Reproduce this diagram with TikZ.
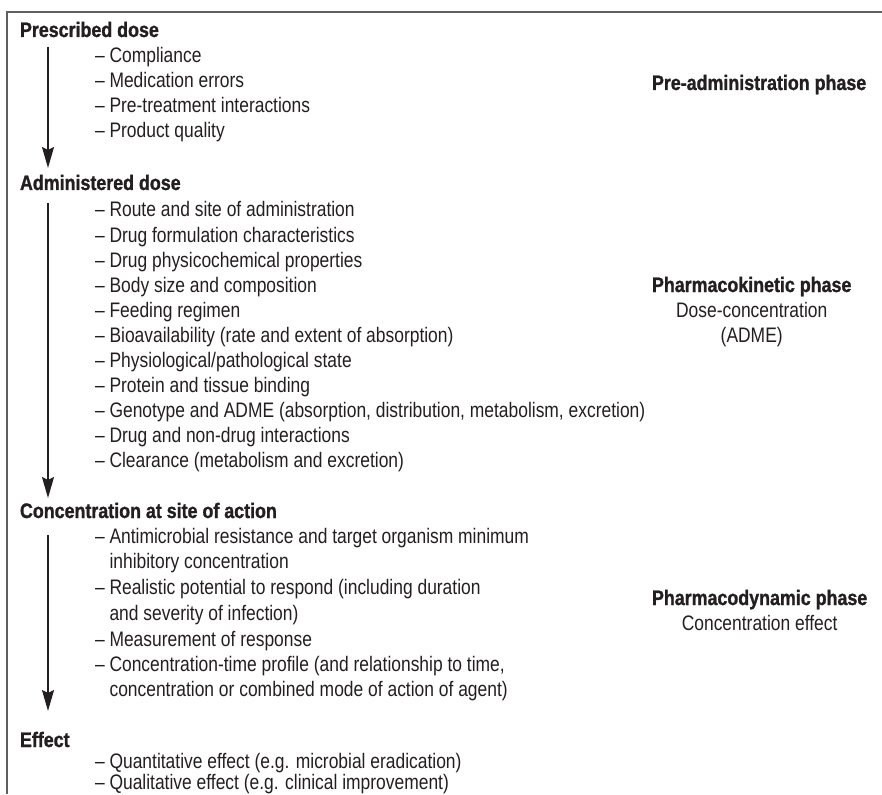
\documentclass[tikz,border=0pt]{standalone}
\usepackage{fontspec}
\setmainfont{Liberation Sans}[FakeStretch=0.83, BoldFeatures={FakeStretch=0.85, FakeBold=1.2}]
\usetikzlibrary{arrows.meta}
\definecolor{ink}{RGB}{35,31,32}
\definecolor{framec}{RGB}{95,95,95}
\begin{document}
\begin{tikzpicture}[x=1pt,y=-1pt,
  every node/.style={inner sep=0pt, outer sep=0pt, text=ink, font=\fontsize{21pt}{25pt}\selectfont},
  head/.style={anchor=base west, font=\fontsize{21pt}{25pt}\selectfont\bfseries},
  item/.style={anchor=base west},
  phase/.style={anchor=base west, font=\fontsize{21pt}{25pt}\selectfont\bfseries},
  sub/.style={anchor=base},
  arr/.style={draw=ink, line width=1.6pt, -{Stealth[length=21pt,width=12pt,inset=3pt]}},
  framel/.style={draw=framec, line width=1.6pt}]
\useasboundingbox (0,0) rectangle (882,794);
\draw[framel] (7,794) -- (7,12) -- (882,12);

% headings
\node[head] (h1) at (20,37) {Prescribed dose};
\node[head] (h2) at (20,190) {Administered dose};
\node[head] (h3) at (20,518) {Concentration at site of action};
\node[head] (h4) at (20,747) {Effect};

% pre-administration items
\foreach \t [count=\i] in {Compliance, Medication errors, Pre-treatment interactions, Product quality}
  \node[item] (pa\i) at (95,{63+25*(\i-1)}) {– \t};

% pharmacokinetic items
\foreach \t [count=\i] in {Route and site of administration, Drug formulation characteristics,
  Drug physicochemical properties, Body size and composition, Feeding regimen,
  {Bioavailability (rate and extent of absorption)}, Physiological/pathological state,
  Protein and tissue binding, {Genotype and ADME (absorption, distribution, metabolism, excretion)},
  Drug and non-drug interactions, Clearance (metabolism and excretion)}
  \node[item] (pk\i) at (95,{217+25*(\i-1)}) {– \t};

% pharmacodynamic items
\node[item] (pd1) at (95,543) {– Antimicrobial resistance and target organism minimum};
\node[item] (pd1b) at (95,568.5) {\phantom{– }inhibitory concentration};
\node[item] (pd2) at (95,594) {– Realistic potential to respond (including duration};
\node[item] (pd2b) at (95,620) {\phantom{– }and severity of infection)};
\node[item] (pd3) at (95,646) {– Measurement of response};
\node[item] (pd4) at (95,671) {– Concentration-time profile (and relationship to time,};
\node[item] (pd4b) at (95,696) {\phantom{– }concentration or combined mode of action of agent)};

% effect items
\node[item] (ef1) at (95,768) {– Quantitative effect (e.g. microbial eradication)};
\node[item] (ef2) at (95,789) {– Qualitative effect (e.g. clinical improvement)};

% phase labels
\node[phase] (ph1) at (652,90) {Pre-administration phase};
\node[phase] (ph2) at (652,292) {Pharmacokinetic phase};
\node[sub] (ph2a) at ([yshift=-25pt]ph2.base) {Dose-concentration};
\node[sub] (ph2b) at ([yshift=-50pt]ph2.base) {(ADME)};
\node[phase] (ph3) at (652,605) {Pharmacodynamic phase};
\node[sub] (ph3a) at ([yshift=-25pt]ph3.base) {Concentration effect};

% arrows
\coordinate (s1) at (48,47);
\coordinate (e1) at (48,168);
\coordinate (s2) at (48,203);
\coordinate (e2) at (48,498);
\coordinate (s3) at (48,535);
\coordinate (e3) at (48,711);
\draw[arr] (s1) -- (e1);
\draw[arr] (s2) -- (e2);
\draw[arr] (s3) -- (e3);
\end{tikzpicture}
\end{document}
